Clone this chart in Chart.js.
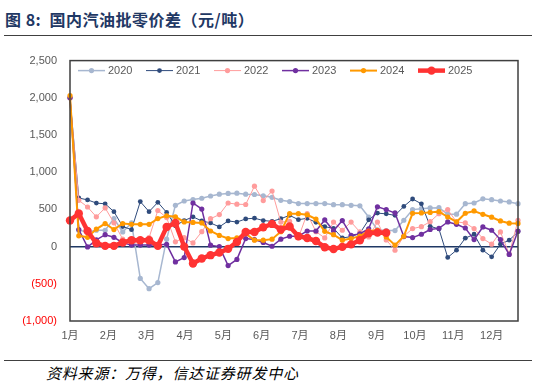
<!DOCTYPE html>
<html><head><meta charset="utf-8">
<script src="https://cdn.jsdelivr.net/npm/chart.js@4/dist/chart.umd.min.js"></script>
<style>
html,body{margin:0;padding:0;background:#fff;}
body{width:539px;height:385px;position:relative;overflow:hidden;font-family:"Liberation Sans","Noto Sans CJK SC",sans-serif;}
#title{position:absolute;left:5px;top:7px;font-size:16px;font-weight:bold;color:#1F3864;white-space:nowrap;font-family:"Noto Sans CJK SC",sans-serif;letter-spacing:0.5px;line-height:24px;}
#trule{position:absolute;left:4px;width:528px;top:35px;border-top:1px solid #404040;}
#wrap{position:absolute;left:0;top:41px;width:539px;height:309px;}
#srule{position:absolute;left:4px;width:528px;top:360px;border-top:1px solid #404040;}
#source{position:absolute;left:46px;top:362px;font-size:15px;font-style:italic;color:#000;font-family:"Noto Sans CJK SC",sans-serif;letter-spacing:0.8px;line-height:22px;}
</style>
</head><body>
<div id="title">图 8:&nbsp; 国内汽油批零价差（元/吨）</div>
<div id="trule"></div>
<div id="wrap"><canvas id="c"></canvas></div>
<div id="srule"></div>
<div id="source">资料来源：万得，信达证券研发中心</div>
<script>
// ---- data (weekly, week index 0..51) ----
const seriesNames = ['2020','2021','2022','2023','2024','2025'];
const monthLabels = ['1月','2月','3月','4月','5月','6月','7月','8月','9月','10月','11月','12月'];
const yTicks = [-1000,-500,0,500,1000,1500,2000,2500];

const v2020 = [2000,220,198,220,220,377,197,318,-428,-565,-483,100,555,613,632,650,680,705,715,718,705,700,682,662,622,605,578,578,578,578,564,564,555,548,398,225,215,215,354,497,510,520,523,436,436,577,586,642,631,613,600,577];
const v2021 = [2000,653,628,585,575,470,270,228,605,470,595,460,280,350,400,345,318,265,345,330,372,382,350,340,375,420,362,380,326,268,246,116,134,179,360,450,440,420,540,640,575,273,237,-146,-48,113,166,-48,-138,32,86,200];
const v2022 = [2000,622,532,400,520,320,100,60,40,120,485,390,64,120,50,200,375,430,586,570,566,812,618,747,330,340,120,443,200,117,330,220,330,197,130,330,90,-49,139,242,268,335,443,497,331,318,242,108,32,197,-100,353];
const v2023 = [2000,230,-5,90,160,125,50,20,20,20,20,30,-206,-148,586,505,19,0,-255,-172,108,94,55,5,100,139,139,210,210,358,212,350,152,170,240,535,497,452,135,121,166,230,245,331,300,250,94,264,220,94,-105,210];
const v2024 = [2030,145,125,236,310,229,310,300,300,300,377,414,400,331,325,318,210,150,108,117,175,86,86,100,200,443,443,428,370,205,160,86,108,140,210,220,130,20,139,448,452,460,470,398,331,448,479,434,395,345,315,312];
const v2025 = [352,446,210,45,10,10,55,86,86,86,10,264,318,0,-227,-160,-115,-80,-30,63,197,197,260,305,230,270,140,115,75,-8,-32,-4,30,86,180,190,187];

const seriesValues = [v2020,v2021,v2022,v2023,v2024,v2025];
const seriesColors = ['#A7B7D0','#2F4B7C','#FF9C9C','#7030A0','#FF9900','#FF3333'];
const lineWidths = [1.5,1,1,1.5,2,4.5];
const pointRadii = [2.6,2.4,2.6,2.6,2.6,4.2];

const weeksPerMonthTick = 48/11;

const datasets = seriesValues.map((vals,k)=>({
  label: seriesNames[k],
  data: vals.map((v,i)=>({x:i,y:v})),
  borderColor: seriesColors[k],
  backgroundColor: seriesColors[k],
  pointBackgroundColor: seriesColors[k],
  pointBorderWidth: 0,
  pointRadius: pointRadii[k],
  borderWidth: lineWidths[k],
  tension: 0,
  clip: 8,
  order: 5-k
}));

const boxPlugin = {
  id:'box',
  afterDatasetsDraw(chart){
    const {ctx, chartArea:a} = chart;
    ctx.save();
    ctx.strokeStyle = '#3F3F3F';
    ctx.lineWidth = 1.5;
    ctx.strokeRect(a.left, a.top, a.right-a.left, a.bottom-a.top);
    ctx.restore();
  }
};

const legendPlugin = {
  id:'lineLegend',
  afterDraw(chart){
    const {ctx, chartArea:a} = chart;
    const startX = a.left + 8, pitch = 68, y = a.top + 10;
    ctx.save();
    chart.data.datasets.forEach((ds,k)=>{
      const x = startX + k*pitch;
      ctx.strokeStyle = ds.borderColor;
      ctx.lineWidth = ds.borderWidth;
      ctx.beginPath(); ctx.moveTo(x, y); ctx.lineTo(x+27, y); ctx.stroke();
      ctx.fillStyle = ds.borderColor;
      ctx.beginPath(); ctx.arc(x+13.5, y, ds.pointRadius, 0, Math.PI*2); ctx.fill();
      ctx.fillStyle = '#595959';
      ctx.font = '11px "Liberation Sans", sans-serif';
      ctx.textBaseline = 'middle';
      ctx.textAlign = 'left';
      ctx.fillText(ds.label, x+30, y+0.5);
    });
    ctx.restore();
  }
};

const fmt = v => {
  const s = Math.abs(v).toLocaleString('en-US');
  return v < 0 ? '(' + s + ')' : s;
};

new Chart(document.getElementById('c'), {
  type:'line',
  data:{datasets},
  options:{
    responsive:true,
    maintainAspectRatio:false,
    animation:false,
    layout:{padding:{left:0,right:21,top:2,bottom:4}},
    plugins:{legend:{display:false},tooltip:{enabled:false}},
    scales:{
      x:{
        type:'linear', min:0, max:51,
        grid:{display:false, drawTicks:false},
        border:{display:false},
        afterBuildTicks(s){ s.ticks = monthLabels.map((_,k)=>({value:k*weeksPerMonthTick})); },
        afterFit(s){ s.height = 25; },
        ticks:{
          autoSkip:false, maxRotation:0, padding:8,
          color:'#595959',
          font:{size:11, family:'"Liberation Sans","Noto Sans CJK SC",sans-serif'},
          callback:(v,i)=>monthLabels[i]
        }
      },
      y:{
        min:-1000, max:2500,
        afterBuildTicks(s){ s.ticks = yTicks.map(v=>({value:v})); },
        afterFit(s){ s.width = 70; },
        grid:{
          drawTicks:false,
          color:c=> (c.tick && c.tick.value===0) ? '#1F3864' : 'rgba(0,0,0,0)',
          lineWidth:c=> (c.tick && c.tick.value===0) ? 1.5 : 0
        },
        border:{display:false},
        ticks:{
          padding:13,
          color:c=> c.tick.value<0 ? '#FF0000' : '#595959',
          font:{size:11, family:'"Liberation Sans",sans-serif'},
          callback:v=>fmt(v)
        }
      }
    }
  },
  plugins:[boxPlugin, legendPlugin]
});
</script>
</body></html>
